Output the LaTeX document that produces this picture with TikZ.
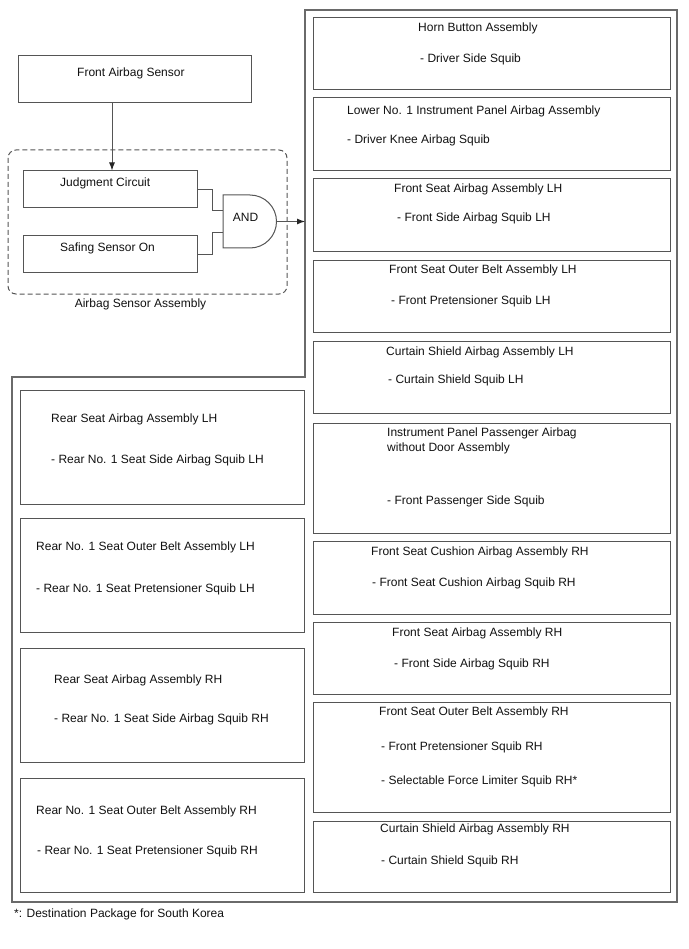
\documentclass[tikz,border=0pt]{standalone}
\usepackage{fontspec}
\setmainfont{Liberation Sans}
\usetikzlibrary{arrows.meta}
\definecolor{linec}{HTML}{555555}
\definecolor{outc}{HTML}{6A6A6A}
\definecolor{txtc}{HTML}{111111}
\begin{document}
\begin{tikzpicture}[x=1pt,y=1pt,
  box/.style={draw=linec, line width=1pt, inner sep=0pt, fill=none},
  lbl/.style={anchor=base west, inner sep=0pt, text=txtc, font=\fontsize{12}{14}\selectfont},
  clbl/.style={anchor=base, inner sep=0pt, text=txtc, font=\fontsize{12}{14}\selectfont},
  conn/.style={draw=linec, line width=1pt},
  arr/.style={draw=linec, line width=1pt, -{Latex[length=8pt,width=6pt,color=black!85]}}]
\useasboundingbox (0,0) rectangle (688,-949);

% outer enclosure
\draw[draw=outc, line width=1.3pt] (305,-10) -- (677,-10) -- (677,-902) -- (12,-902) -- (12,-377) -- (305,-377) -- cycle;

% top-left sensor part
\node[box, minimum width=233pt, minimum height=47pt] (fas) at (134.5,-79.5) {};
\node[lbl] (fast) at (77,-77) {Front Airbag Sensor};

\draw[draw=linec, line width=1pt, dash pattern=on 5pt off 3pt, rounded corners=8pt] (8,-150) rectangle (287,-294);
\node[clbl] (asa) at (140.5,-307) {Airbag Sensor Assembly};

\node[box, minimum width=174pt, minimum height=37pt] (jc) at (110,-189.5) {};
\node[lbl] (jct) at (60,-187) {Judgment Circuit};
\node[box, minimum width=174pt, minimum height=37pt] (sf) at (110,-254.5) {};
\node[lbl] (sft) at (60,-252) {Safing Sensor On};

\coordinate (v) at (112,0);
\draw[arr] (fas.south -| v) -- (jc.north -| v);

% AND gate
\draw[draw=linec, line width=1pt] (223,-195) -- (250,-195) arc[start angle=90, end angle=-90, radius=26.5] -- (223,-248) -- cycle;
\node[clbl] (andt) at (245.5,-222) {AND};
\coordinate (g1) at (223,-211);
\coordinate (g2) at (223,-233);
\coordinate (gout) at (276.5,-221.5);
\coordinate (tgt) at (305,-221.5);
\draw[conn] (jc.east) -- ++(15,0) |- (g1);
\draw[conn] (sf.east) -- ++(15,0) |- (g2);
\draw[arr] (gout) -- (tgt);

% right column boxes
\node[box, minimum width=357pt, minimum height=72pt] (r1) at (491.5,-54) {};
\node[lbl] (r1a) at (418,-32) {Horn Button Assembly};
\node[lbl] (r1b) at (420,-63) {- Driver Side Squib};

\node[box, minimum width=357pt, minimum height=73pt] (r2) at (491.5,-134.5) {};
\node[lbl] (r2a) at (347,-115) {Lower No. 1 Instrument Panel Airbag Assembly};
\node[lbl] (r2b) at (347,-144) {- Driver Knee Airbag Squib};

\node[box, minimum width=357pt, minimum height=73pt] (r3) at (491.5,-215.5) {};
\node[lbl] (r3a) at (394,-193) {Front Seat Airbag Assembly LH};
\node[lbl] (r3b) at (397,-222) {- Front Side Airbag Squib LH};

\node[box, minimum width=357pt, minimum height=71pt] (r4) at (491.5,-296.5) {};
\node[lbl] (r4a) at (389,-274) {Front Seat Outer Belt Assembly LH};
\node[lbl] (r4b) at (391,-305) {- Front Pretensioner Squib LH};

\node[box, minimum width=357pt, minimum height=72pt] (r5) at (491.5,-377) {};
\node[lbl] (r5a) at (386,-355) {Curtain Shield Airbag Assembly LH};
\node[lbl] (r5b) at (388,-383) {- Curtain Shield Squib LH};

\node[box, minimum width=357pt, minimum height=110pt] (r6) at (491.5,-478) {};
\node[lbl] (r6a) at (387,-436) {Instrument Panel Passenger Airbag};
\node[lbl] (r6b) at (387,-451) {without Door Assembly};
\node[lbl] (r6c) at (387,-504) {- Front Passenger Side Squib};

\node[box, minimum width=357pt, minimum height=73pt] (r7) at (491.5,-577.5) {};
\node[lbl] (r7a) at (371,-555) {Front Seat Cushion Airbag Assembly RH};
\node[lbl] (r7b) at (372,-586) {- Front Seat Cushion Airbag Squib RH};

\node[box, minimum width=357pt, minimum height=72pt] (r8) at (491.5,-658) {};
\node[lbl] (r8a) at (392,-636) {Front Seat Airbag Assembly RH};
\node[lbl] (r8b) at (394,-667) {- Front Side Airbag Squib RH};

\node[box, minimum width=357pt, minimum height=110pt] (r9) at (491.5,-757) {};
\node[lbl] (r9a) at (379,-715) {Front Seat Outer Belt Assembly RH};
\node[lbl] (r9b) at (381,-750) {- Front Pretensioner Squib RH};
\node[lbl] (r9c) at (381,-784) {- Selectable Force Limiter Squib RH*};

\node[box, minimum width=357pt, minimum height=71pt] (r10) at (491.5,-856.5) {};
\node[lbl] (r10a) at (380,-832) {Curtain Shield Airbag Assembly RH};
\node[lbl] (r10b) at (381,-864) {- Curtain Shield Squib RH};

% left column boxes
\node[box, minimum width=284pt, minimum height=114pt] (l1) at (162,-447) {};
\node[lbl] (l1a) at (51,-422) {Rear Seat Airbag Assembly LH};
\node[lbl] (l1b) at (51,-463) {- Rear No. 1 Seat Side Airbag Squib LH};

\node[box, minimum width=284pt, minimum height=114pt] (l2) at (162,-575) {};
\node[lbl] (l2a) at (36,-550) {Rear No. 1 Seat Outer Belt Assembly LH};
\node[lbl] (l2b) at (36,-592) {- Rear No. 1 Seat Pretensioner Squib LH};

\node[box, minimum width=284pt, minimum height=114pt] (l3) at (162,-705) {};
\node[lbl] (l3a) at (54,-683) {Rear Seat Airbag Assembly RH};
\node[lbl] (l3b) at (54,-722) {- Rear No. 1 Seat Side Airbag Squib RH};

\node[box, minimum width=284pt, minimum height=114pt] (l4) at (162,-835) {};
\node[lbl] (l4a) at (36,-814) {Rear No. 1 Seat Outer Belt Assembly RH};
\node[lbl] (l4b) at (37,-854) {- Rear No. 1 Seat Pretensioner Squib RH};

\node[lbl] (fn) at (14,-917) {*: Destination Package for South Korea};
\end{tikzpicture}
\end{document}
